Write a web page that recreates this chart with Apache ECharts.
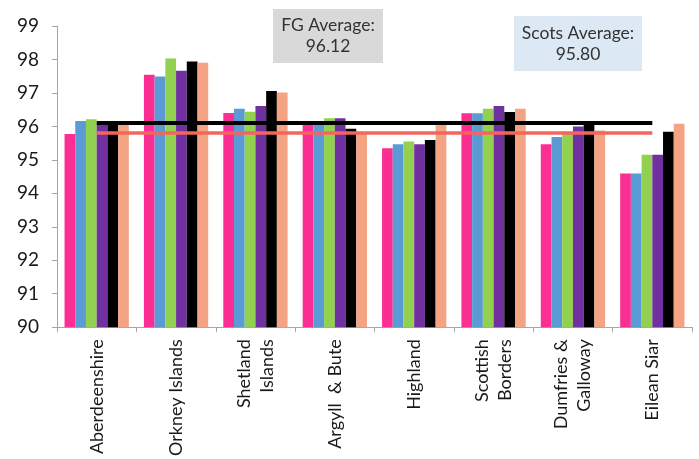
<!DOCTYPE html>
<html>
<head>
<meta charset="utf-8">
<script src="https://cdn.jsdelivr.net/npm/echarts@6/dist/echarts.min.js"></script>
<style>
  html, body { margin: 0; padding: 0; background: #ffffff; }
  #chart { width: 699px; height: 459px; }
</style>
</head>
<body>
<div id="chart"></div>
<script>
// Council areas along the x axis
const categories = [
  'Aberdeenshire', 'Orkney Islands', 'Shetland\nIslands', 'Argyll  & Bute',
  'Highland', 'Scottish\nBorders', 'Dumfries &\nGalloway', 'Eilean Siar'
];

// Six yearly series per council area
const seriesA = [95.77, 97.54, 96.40, 96.05, 95.35, 96.39, 95.47, 94.59];
const seriesB = [96.16, 97.49, 96.53, 96.05, 95.47, 96.39, 95.68, 94.59];
const seriesC = [96.21, 98.03, 96.44, 96.24, 95.55, 96.53, 95.77, 95.15];
const seriesD = [96.06, 97.66, 96.61, 96.24, 95.47, 96.61, 96.00, 95.15];
const seriesE = [96.10, 97.94, 97.06, 95.93, 95.59, 96.43, 96.10, 95.84];
const seriesF = [96.06, 97.90, 97.01, 95.77, 96.07, 96.53, 95.88, 96.08];

// Reference averages
const fgAvg = 96.12;
const scotsAvg = 95.80;

const yTicks = { min: 90, max: 99, step: 1 };

const colors = ['#fb2f93', '#5b9bd5', '#92d050', '#7030a0', '#000000', '#f4a383'];
const allSeries = [seriesA, seriesB, seriesC, seriesD, seriesE, seriesF];

const FONT = 'Lato, "Open Sans", sans-serif';

const chart = echarts.init(document.getElementById('chart'), null, { renderer: 'canvas' });

const first = categories[0];
const last = categories[categories.length - 1];

const series = allSeries.map((vals, i) => ({
  type: 'bar',
  data: vals,
  barGap: '0%',
  barCategoryGap: '19%',
  itemStyle: { color: colors[i] },
  silent: true,
  z: 2
}));

// Average reference lines spanning the first to the last category centre
series.push({
  type: 'line',
  data: [],
  silent: true,
  z: 5,
  markLine: {
    silent: true,
    symbol: 'none',
    label: { show: false },
    animation: false,
    data: [
      [
        { coord: [first, scotsAvg], lineStyle: { color: '#f4655e', width: 3.5, type: 'solid' } },
        { coord: [last, scotsAvg] }
      ],
      [
        { coord: [first, fgAvg], lineStyle: { color: '#000000', width: 4, type: 'solid' } },
        { coord: [last, fgAvg] }
      ]
    ]
  }
});

chart.setOption({
  animation: false,
  backgroundColor: '#ffffff',
  grid: { left: 57, right: 7, top: 26, bottom: 131, containLabel: false },
  xAxis: {
    type: 'category',
    data: categories,
    boundaryGap: true,
    axisLine: { show: true, lineStyle: { color: '#a6a6a6', width: 1 } },
    axisTick: { show: true, alignWithLabel: false, length: 5, lineStyle: { color: '#a6a6a6' } },
    axisLabel: {
      interval: 0,
      rotate: 90,
      margin: 12,
      fontFamily: FONT,
      fontSize: 18,
      color: '#1a1a1a',
      lineHeight: 23,
      align: 'right'
    }
  },
  yAxis: {
    type: 'value',
    min: yTicks.min,
    max: yTicks.max,
    interval: yTicks.step,
    splitLine: { show: false },
    axisLine: { show: true, lineStyle: { color: '#a6a6a6', width: 1 } },
    axisTick: { show: true, length: 5, lineStyle: { color: '#a6a6a6' } },
    axisLabel: {
      fontFamily: FONT,
      fontSize: 19,
      color: '#1a1a1a',
      margin: 18
    }
  },
  series: series,
  graphic: [
    {
      type: 'group',
      left: 273,
      top: 9,
      children: [
        { type: 'rect', shape: { x: 0, y: 0, width: 110, height: 54 }, style: { fill: '#d9d9d9' } },
        {
          type: 'text',
          x: 55, y: 27,
          style: {
            text: 'FG Average:\n' + fgAvg.toFixed(2),
            align: 'center', verticalAlign: 'middle',
            fontFamily: FONT, fontSize: 17.5, lineHeight: 21, fill: '#333333'
          }
        }
      ]
    },
    {
      type: 'group',
      left: 514,
      top: 16,
      children: [
        { type: 'rect', shape: { x: 0, y: 0, width: 128, height: 55 }, style: { fill: '#dce8f4' } },
        {
          type: 'text',
          x: 64, y: 27.5,
          style: {
            text: 'Scots Average:\n' + scotsAvg.toFixed(2),
            align: 'center', verticalAlign: 'middle',
            fontFamily: FONT, fontSize: 17.5, lineHeight: 21, fill: '#333333'
          }
        }
      ]
    }
  ]
});
</script>
</body>
</html>
